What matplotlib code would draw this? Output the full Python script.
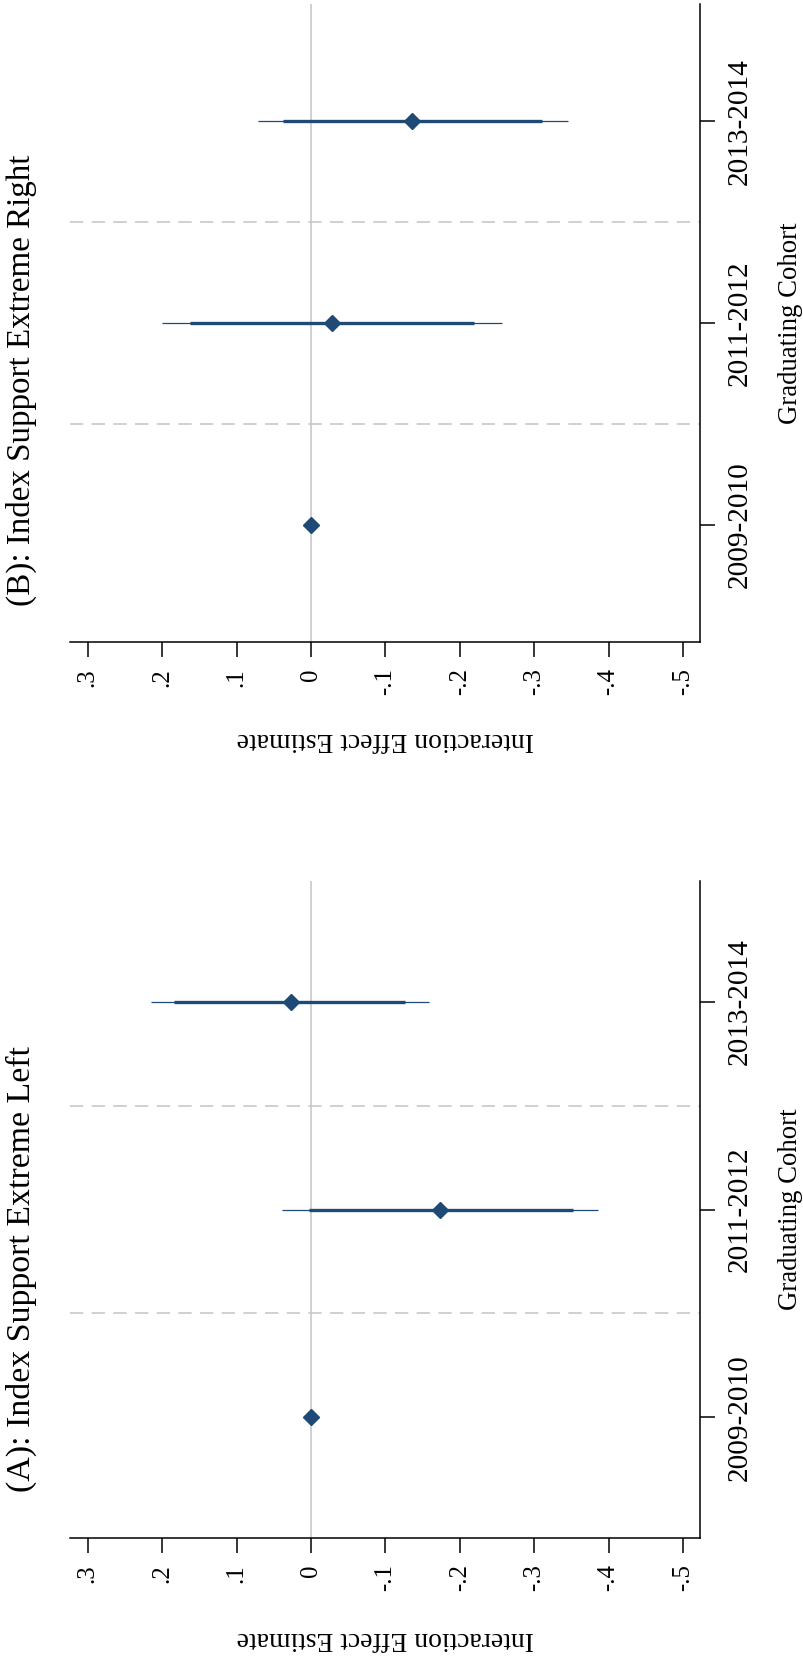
import matplotlib
matplotlib.use("Agg")
import matplotlib.pyplot as plt

plt.rcParams['font.family'] = ['Liberation Serif', 'DejaVu Serif']

cohorts = ["2009-2010", "2011-2012", "2013-2014"]
# Panel A: Extreme Left
est_A = [0.0, -0.173, 0.027]
lo95_A = [None, 0.039, 0.215]
hi95_A = [None, -0.386, -0.159]
lo90_A = [None, 0.003, 0.184]
hi90_A = [None, -0.352, -0.127]
# Panel B: Extreme Right
est_B = [0.0, -0.028, -0.136]
lo95_B = [None, 0.2, 0.071]
hi95_B = [None, -0.257, -0.345]
lo90_B = [None, 0.163, 0.038]
hi90_B = [None, -0.219, -0.31]

ticks = [0.3, 0.2, 0.1, 0, -0.1, -0.2, -0.3, -0.4, -0.5]
tick_labels = [".3", ".2", ".1", "0", "-.1", "-.2", "-.3", "-.4", "-.5"]

navy = "#1f4a75"
W, H = 804, 1673
fig = plt.figure(figsize=(8.04, 16.73), dpi=100)
renderer = fig.canvas.get_renderer()

def fx(x): return x / W
def fy(y): return 1 - y / H

def fit(t, target, horizontal=False):
    bb = t.get_window_extent(renderer)
    cur = bb.width if horizontal else bb.height
    t.set_fontsize(t.get_fontsize() * target / cur)

panels = [
    dict(top=881, bot=1538, est=est_A, lo95=lo95_A, hi95=hi95_A, lo90=lo90_A, hi90=hi90_A,
         title="(A): Index Support Extreme Left", xl_y=1639, title_start=1492),
    dict(top=4, bot=642, est=est_B, lo95=lo95_B, hi95=hi95_B, lo90=lo90_B, hi90=hi90_B,
         title="(B): Index Support Extreme Right", xl_y=740, title_start=606),
]

# measure font sizes for tick labels
probe = fig.text(0, 0, "2009-2010", rotation=90, fontsize=20)
fit(probe, 126)
cat_fs = probe.get_fontsize()
probe.remove()
probe = fig.text(0, 0, "-.1", rotation=90, fontsize=20)
fit(probe, 27)
num_fs = probe.get_fontsize()
probe.remove()

pos = [1, 2, 3]
for p in panels:
    l, r = 70, 700
    ax = fig.add_axes([fx(l), fy(p['bot']), fx(r - l), (p['bot'] - p['top']) / H])
    ax.set_xlim(0.324, -0.523)
    ax.set_ylim(0.42, 3.58)
    ax.axvline(0, color="#c8c8c8", lw=1.2, zorder=1)
    for d in [1.5, 2.5]:
        ax.axhline(d, color="#c8c8c8", lw=1.2, ls=(0, (8, 5)), zorder=1)
    for i in range(3):
        y = pos[i]
        if p['lo95'][i] is not None:
            ax.hlines(y, p['lo95'][i], p['hi95'][i], color=navy, lw=0.9, zorder=2)
            ax.hlines(y, p['lo90'][i], p['hi90'][i], color=navy, lw=2.4, zorder=3)
        ax.plot(p['est'][i], y, marker='D', color=navy, ms=8, zorder=4)
    for s in ['top', 'left']:
        ax.spines[s].set_visible(False)
    ax.spines['bottom'].set_linewidth(1.1)
    ax.spines['right'].set_linewidth(1.1)
    ax.set_xticks(ticks)
    ax.set_xticklabels(tick_labels, rotation=90, fontsize=num_fs, va='top')
    ax.yaxis.tick_right()
    ax.set_yticks(pos)
    ax.set_yticklabels(cohorts, rotation=90, fontsize=cat_fs, va='center')
    ax.tick_params(length=11, width=1.1, pad=8)
    t1 = fig.text(fx(791), fy((p['top'] + p['bot']) / 2), "Graduating Cohort", rotation=90,
                  ha='center', va='center', fontsize=16)
    fit(t1, 201)
    t2 = fig.text(fx(385), fy(p['xl_y']), "Interaction Effect Estimate", rotation=180,
                  ha='center', va='center', fontsize=16)
    fit(t2, 298, horizontal=True)
    t3 = fig.text(fx(21), fy(p['title_start']), p['title'], rotation=90, rotation_mode='anchor',
                  ha='left', va='center', fontsize=22)
    fit(t3, 444 if 'Left' in p['title'] else 449)

fig.savefig("out.png", dpi=100, facecolor='white')
